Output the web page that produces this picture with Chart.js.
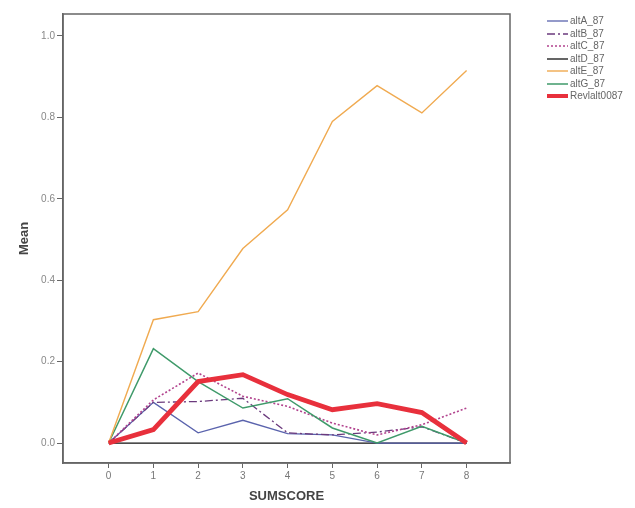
<!DOCTYPE html>
<html>
<head>
<meta charset="utf-8">
<script src="https://cdn.jsdelivr.net/npm/chart.js@4.4.1/dist/chart.umd.min.js"></script>
<style>
  html, body { margin: 0; padding: 0; background: #fff; }
  #wrap { position: relative; width: 635px; height: 508px; }
  #legend { position: absolute; left: 547px; top: 15px; font: 10px "Liberation Sans", Arial, sans-serif; color: #666; }
  #legend div { height: 12.5px; line-height: 12.5px; white-space: nowrap; }
  #legend svg { vertical-align: middle; margin-right: 2px; }
</style>
</head>
<body>
<div id="wrap">
  <canvas id="chart" width="635" height="508"></canvas>
  <div id="legend"></div>
</div>
<script>
// x values
const sumscore = [0, 1, 2, 3, 4, 5, 6, 7, 8];

// means per series
const altA = [0, 0.100, 0.025, 0.056, 0.023, 0.020, 0, 0, 0];
const altB = [0, 0.100, 0.102, 0.110, 0.025, 0.020, 0.027, 0.040, 0];
const altC = [0, 0.106, 0.172, 0.115, 0.090, 0.049, 0.020, 0.045, 0.086];
const altD = [0, 0, 0, 0, 0, 0, 0, 0, 0];
const altE = [0, 0.303, 0.323, 0.478, 0.573, 0.790, 0.878, 0.811, 0.915];
const altG = [0, 0.232, 0.151, 0.086, 0.109, 0.037, 0, 0.041, 0];
const revl = [0, 0.033, 0.151, 0.168, 0.119, 0.082, 0.097, 0.075, 0];

const seriesNames = ['altA_87', 'altB_87', 'altC_87', 'altD_87', 'altE_87', 'altG_87', 'Revlalt0087'];
const seriesValues = [altA, altB, altC, altD, altE, altG, revl];
const seriesColors = ['#5a63ad', '#6b3a7d', '#b2438e', '#111111', '#f0aa50', '#3f9a6a', '#e8303c'];
const seriesWidths = [1.3, 1.3, 1.6, 1.3, 1.4, 1.5, 4.8];
const seriesDash = [[], [8, 3, 2, 3], [2, 2], [], [], [], []];
const drawOrder = [3, 0, 1, 2, 5, 4, 6];

const yTicks = [0, 0.2, 0.4, 0.6, 0.8, 1.0];
const xTicks = sumscore;

const datasets = seriesNames.map((name, i) => ({
  label: name,
  data: sumscore.map((x, j) => ({ x: x, y: seriesValues[i][j] })),
  borderColor: seriesColors[i],
  borderWidth: seriesWidths[i],
  borderDash: seriesDash[i],
  pointRadius: 0,
  fill: false,
  tension: 0,
  order: 10 - drawOrder.indexOf(i)
}));

// frame around the plot
const framePlugin = {
  id: 'frame',
  afterDraw(chart) {
    const a = chart.chartArea;
    const ctx = chart.ctx;
    ctx.save();
    ctx.strokeStyle = '#666';
    ctx.lineWidth = 1.5;
    ctx.strokeRect(a.left, a.top, a.right - a.left, a.bottom - a.top);
    ctx.restore();
  }
};

const tickFont = { family: '"Liberation Sans", Arial, sans-serif', size: 10 };
const titleFont = { family: '"Liberation Sans", Arial, sans-serif', size: 13, weight: 'bold' };

new Chart(document.getElementById('chart'), {
  type: 'line',
  data: { datasets: datasets },
  options: {
    responsive: false,
    animation: false,
    layout: { padding: { top: 14, right: 125, left: 13, bottom: 0 } },
    plugins: { legend: { display: false }, tooltip: { enabled: false } },
    scales: {
      x: {
        type: 'linear',
        min: -1.02,
        max: 8.97,
        afterBuildTicks: s => { s.ticks = xTicks.map(v => ({ value: v })); },
        afterFit: s => { s.height = 45; },
        grid: { display: true, drawOnChartArea: false, drawTicks: true, tickLength: 5, color: '#666' },
        border: { display: true, color: '#666', width: 1.5 },
        ticks: { color: '#777', font: tickFont, padding: 2, autoSkip: false, maxRotation: 0 },
        title: { display: true, text: 'SUMSCORE', color: '#444', font: titleFont, padding: { top: 5 } }
      },
      y: {
        type: 'linear',
        min: -0.049,
        max: 1.054,
        afterBuildTicks: s => { s.ticks = yTicks.map(v => ({ value: v })); },
        afterFit: s => { s.width = 50; },
        grid: { display: true, drawOnChartArea: false, drawTicks: true, tickLength: 6, color: '#666' },
        border: { display: true, color: '#666', width: 1.5 },
        ticks: { color: '#888', font: tickFont, padding: 2, callback: v => v.toFixed(1) },
        title: { display: true, text: 'Mean', color: '#444', font: titleFont, padding: { bottom: 4 } }
      }
    }
  },
  plugins: [framePlugin]
});

// legend
const legend = document.getElementById('legend');
seriesNames.forEach((name, i) => {
  const row = document.createElement('div');
  const w = Math.min(seriesWidths[i], 4);
  row.innerHTML = '<svg width="21" height="6"><line x1="0" y1="3" x2="21" y2="3" stroke="' + seriesColors[i] +
    '" stroke-width="' + w + '" stroke-dasharray="' + (seriesDash[i].join(' ') || 'none') + '"/></svg>' + name;
  legend.appendChild(row);
});
</script>
</body>
</html>
